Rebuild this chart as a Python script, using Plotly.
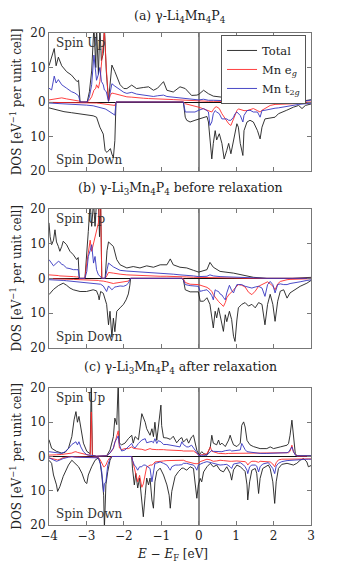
import plotly.graph_objects as go

# ---------------- (a) gamma-Li4Mn4P4 ----------------
e_up_a = [-4.00, -3.93, -3.86, -3.81, -3.75, -3.66, -3.53, -3.40, -3.31, -3.25, -3.21, -3.17, -2.98, -2.92,
          -2.86, -2.80, -2.75, -2.73, -2.68, -2.64, -2.60, -2.55, -2.52, -2.47, -2.41, -2.36, -2.32, -2.24,
          -2.10, -2.00, -1.92, -1.79, -1.66, -1.48, -1.34, -1.21, -1.10, -0.94, -0.85, -0.68, -0.50, -0.36,
          -0.19, -0.05, 0.00, 0.13, 0.26, 0.39, 0.66, 0.93, 0.97, 1.06, 1.29, 1.55, 1.82, 2.18, 2.62, 2.85, 3.03]
tot_up_a = [10.5, 13.0, 15.5, 10.5, 13.0, 10.5, 8.8, 7.8, 6.8, 5.9, 6.3, 0.0, 0.0, 3.0,
            9.0, 22.0, 10.0, 22.0, 8.0, 22.0, 12.0, 14.0, 22.0, 9.0, 0.3, 6.0, 10.7, 8.8,
            5.0, 3.9, 3.9, 4.9, 3.9, 4.2, 4.4, 3.4, 4.0, 5.9, 3.4, 2.9, 4.4, 3.9,
            1.9, 2.0, 2.2, 3.4, 2.4, 1.7, 1.3, 1.0, 1.5, 0.8, 0.5, 0.2, 0.0, 0.0, 0.1, 0.4, 0.7]
eg_up_a = [0.6, 0.7, 0.8, 0.8, 1.0, 1.2, 0.9, 0.7, 0.5, 0.4, 0.3, 0.0, 0.0, 0.5,
           1.5, 3.4, 4.0, 5.0, 4.0, 6.0, 11.0, 16.0, 20.5, 10.0, 0.2, 2.0, 2.6, 2.4,
           2.0, 1.7, 1.5, 1.4, 1.2, 1.1, 1.0, 0.9, 0.9, 0.9, 0.8, 0.7, 0.6, 0.5,
           0.4, 0.3, 0.3, 0.3, 0.2, 0.2, 0.1, 0.1, 0.1, 0.1, 0.0, 0.0, 0.0, 0.0, 0.0, 0.0, 0.0]
t2g_up_a = [4.0, 3.5, 7.5, 5.5, 6.5, 5.0, 4.0, 3.0, 2.6, 2.0, 1.8, 0.0, 0.0, 1.5,
            5.0, 13.6, 9.0, 6.3, 8.0, 10.0, 6.0, 5.0, 3.5, 3.0, 0.2, 3.0, 5.3, 4.6,
            3.6, 2.8, 2.5, 2.8, 2.3, 2.0, 1.8, 1.6, 1.8, 2.0, 1.6, 1.4, 1.2, 1.0,
            0.9, 0.7, 0.6, 0.8, 0.5, 0.5, 0.4, 0.2, 0.2, 0.2, 0.1, 0.0, 0.0, 0.0, 0.1, 0.3, 0.6]

e_dn_a = [-4.00, -3.80, -3.60, -3.40, -3.20, -3.00, -2.82, -2.73, -2.64, -2.55, -2.50, -2.45, -2.41, -2.36,
          -2.32, -2.28, -2.24, -2.21, -0.41, -0.36, -0.32, -0.23, -0.10, 0.00, 0.13, 0.22, 0.26, 0.30,
          0.35, 0.39, 0.44, 0.48, 0.55, 0.62, 0.68, 0.75, 0.80, 0.86, 0.93, 0.97, 1.02, 1.06, 1.11,
          1.18, 1.21, 1.29, 1.37, 1.46, 1.57, 1.64, 1.69, 1.77, 1.91, 2.04, 2.13, 2.22, 2.35, 2.53,
          2.67, 2.76, 2.85, 3.03]
tot_dn_a = [1.7, 2.3, 2.8, 3.1, 3.4, 3.6, 4.0, 4.4, 7.3, 9.3, 14.1, 14.6, 14.2, 13.5,
            15.1, 16.1, 11.2, 0.0, 0.0, 4.4, 5.3, 5.8, 5.3, 4.9, 4.6, 4.2, 5.8, 11.0,
            16.5, 12.0, 8.3, 11.0, 9.2, 12.0, 16.5, 14.0, 12.0, 15.0, 11.0, 8.3, 6.3, 7.3, 12.0,
            15.5, 8.3, 5.8, 5.3, 5.8, 8.3, 10.7, 7.3, 4.9, 4.6, 4.4, 3.4, 2.9, 2.4, 1.5,
            1.0, 1.9, 1.0, 0.5]
eg_dn_a = [0.1, 0.1, 0.1, 0.2, 0.2, 0.3, 0.3, 0.3, 0.4, 0.5, 0.5, 0.6, 0.7, 0.8,
           0.8, 0.9, 1.0, 0.0, 0.0, 0.5, 0.6, 0.8, 1.2, 1.5, 2.0, 2.4, 2.7, 2.9,
           2.9, 2.2, 1.5, 1.4, 1.9, 3.4, 4.4, 5.8, 6.3, 6.8, 4.9, 3.4, 2.5, 2.0, 2.2,
           2.5, 2.5, 2.5, 2.2, 1.9, 2.5, 2.9, 2.4, 1.9, 1.0, 0.7, 0.7, 0.6, 0.5, 0.5,
           0.4, 0.4, 0.3, 0.2]
t2g_dn_a = [0.3, 0.4, 0.5, 0.6, 0.7, 0.9, 1.1, 1.3, 1.5, 1.8, 2.0, 2.3, 2.6, 2.9,
            3.2, 3.5, 3.8, 0.0, 0.0, 2.9, 2.9, 2.9, 2.9, 2.4, 1.9, 2.5, 2.9, 6.8,
            5.8, 3.4, 2.5, 2.9, 3.4, 4.9, 4.9, 4.9, 5.3, 5.3, 4.4, 3.4, 2.9, 3.4, 3.9,
            5.8, 3.9, 2.5, 2.4, 2.9, 2.9, 4.4, 2.5, 2.4, 2.0, 1.8, 1.7, 1.5, 1.2, 0.8,
            0.7, 0.6, 0.5, 0.3]

# ---------------- (b) gamma-Li3Mn4P4 before relaxation ----------------
e_up_b = [-4.00, -3.97, -3.93, -3.88, -3.84, -3.80, -3.75, -3.71, -3.66, -3.62, -3.53, -3.44, -3.35, -3.26,
          -3.22, -3.19, -3.04, -2.99, -2.95, -2.90, -2.86, -2.81, -2.77, -2.73, -2.68, -2.65, -2.62, -2.59,
          -2.50, -2.45, -2.41, -2.28, -2.19, -2.10, -1.92, -1.75, -1.57, -1.39, -1.21, -1.03, -0.85, -0.76,
          -0.68, -0.50, -0.32, -0.14, 0.00, 0.22, 0.30, 0.39, 0.57, 0.93, 1.29, 1.46, 1.82, 2.50, 3.03]
tot_up_b = [16.0, 12.0, 9.7, 11.0, 14.0, 10.5, 9.2, 7.8, 9.2, 10.7, 9.7, 7.8, 6.8, 5.4,
            6.0, 0.0, 0.0, 6.8, 13.5, 22.0, 15.0, 22.0, 15.0, 22.0, 22.0, 12.0, 22.0, 0.0,
            0.0, 8.0, 10.5, 9.2, 5.4, 3.9, 3.0, 3.4, 3.0, 3.6, 3.2, 3.9, 3.9, 5.6,
            3.9, 3.2, 3.0, 2.3, 1.8, 2.5, 4.6, 3.2, 2.0, 1.5, 0.8, 0.3, 0.0, 0.0, 0.3]
eg_up_b = [1.0, 1.0, 0.9, 0.8, 0.8, 0.8, 0.8, 0.7, 0.7, 0.7, 0.6, 0.6, 0.5, 0.4,
           0.4, 0.0, 0.0, 4.4, 8.0, 11.0, 7.8, 10.0, 12.0, 14.0, 16.0, 22.0, 22.0, 0.0,
           0.0, 0.8, 1.7, 1.5, 1.3, 1.2, 1.0, 0.9, 0.8, 0.7, 0.6, 0.6, 0.6, 0.6,
           0.5, 0.5, 0.4, 0.3, 0.3, 0.2, 0.2, 0.2, 0.1, 0.1, 0.0, 0.0, 0.0, 0.0, 0.0]
t2g_up_b = [5.4, 5.0, 4.5, 3.6, 4.0, 4.5, 4.9, 4.7, 4.0, 3.9, 3.0, 2.8, 2.5, 2.5,
            2.5, 0.0, 0.0, 2.0, 6.3, 8.0, 9.7, 4.4, 6.3, 2.5, 1.0, 0.8, 0.5, 0.0,
            0.0, 2.5, 4.4, 3.3, 2.7, 2.3, 2.1, 2.0, 1.8, 1.6, 1.5, 1.4, 1.3, 1.3,
            1.2, 1.0, 0.9, 0.7, 0.5, 0.6, 1.0, 0.7, 0.5, 0.3, 0.2, 0.1, 0.0, 0.0, 0.0]

e_dn_b = [-4.00, -3.88, -3.75, -3.62, -3.53, -3.44, -3.35, -3.17, -3.00, -2.82, -2.73, -2.68, -2.66, -2.62,
          -2.55, -2.46, -2.41, -2.37, -2.32, -2.28, -2.24, -2.19, -2.10, -2.01, -1.94, -1.88, -1.84, -1.82,
          -0.45, -0.41, -0.36, -0.23, -0.01, 0.04, 0.13, 0.22, 0.30, 0.35, 0.39, 0.44, 0.48, 0.53,
          0.57, 0.62, 0.66, 0.71, 0.75, 0.82, 0.88, 0.93, 0.97, 1.02, 1.06, 1.15, 1.24, 1.33,
          1.42, 1.51, 1.60, 1.69, 1.77, 1.84, 1.91, 1.98, 2.04, 2.11, 2.18, 2.27, 2.36, 2.44,
          2.58, 2.71, 2.89, 3.03]
tot_dn_b = [4.7, 3.2, 2.1, 1.4, 2.0, 2.8, 3.3, 3.8, 3.8, 3.3, 3.6, 5.0, 6.2, 3.8,
            4.3, 7.5, 13.4, 9.5, 17.0, 11.5, 15.4, 9.5, 8.5, 7.5, 6.2, 4.5, 2.0, 0.0,
            0.0, 0.4, 3.3, 3.9, 3.9, 6.6, 6.6, 5.6, 7.5, 11.4, 14.3, 9.5, 11.4, 8.5,
            10.5, 12.5, 15.3, 10.5, 12.5, 9.5, 11.9, 16.7, 18.2, 12.0, 8.5, 7.5, 7.0, 8.0,
            7.5, 8.5, 7.0, 7.5, 13.4, 7.5, 4.6, 7.5, 12.4, 6.6, 3.7, 3.3, 5.7, 4.2,
            3.3, 2.3, 1.4, 0.4]
eg_dn_b = [0.1, 0.1, 0.1, 0.1, 0.2, 0.2, 0.3, 0.4, 0.4, 0.5, 0.6, 0.6, 0.7, 0.7,
           0.8, 1.0, 1.2, 1.3, 1.5, 1.5, 1.4, 1.3, 1.1, 1.0, 0.9, 0.8, 0.3, 0.0,
           0.0, 0.1, 1.2, 1.7, 1.8, 2.0, 2.3, 2.6, 3.2, 3.8, 4.7, 5.5, 6.2, 6.7,
           7.1, 7.6, 8.1, 7.0, 5.6, 4.5, 4.0, 3.3, 2.8, 2.3, 1.8, 2.0, 2.5, 4.0,
           4.7, 3.7, 2.3, 1.8, 1.3, 1.0, 1.6, 2.2, 3.3, 1.6, 0.9, 0.6, 0.4, 0.3,
           0.2, 0.2, 0.1, 0.1]
t2g_dn_b = [0.4, 0.4, 0.5, 0.6, 0.7, 0.8, 1.0, 1.2, 1.3, 1.4, 1.5, 1.6, 1.6, 1.7,
            2.2, 3.8, 2.2, 2.8, 3.3, 2.9, 2.5, 2.4, 2.2, 2.3, 2.0, 1.4, 0.5, 0.0,
            0.0, 0.4, 1.8, 2.1, 2.3, 3.75, 3.5, 3.3, 4.2, 5.0, 6.2, 3.3, 3.6, 3.8,
            4.5, 4.8, 5.5, 6.2, 4.2, 2.0, 3.5, 4.2, 3.0, 1.8, 1.8, 1.8, 2.3, 2.5,
            2.8, 2.5, 2.3, 2.8, 5.2, 1.8, 0.9, 1.8, 4.2, 1.8, 1.6, 1.8, 1.8, 1.5,
            1.3, 1.0, 0.6, 0.4]

# ---------------- (c) gamma-Li3Mn4P4 after relaxation ----------------
e_up_c = [-4.00, -3.93, -3.80, -3.66, -3.57, -3.48, -3.39, -3.33, -3.28, -3.24, -3.20, -3.15, -3.08, -2.99,
          -2.90, -2.87, -2.84, -2.73, -2.46, -2.37, -2.28, -2.24, -2.19, -2.15, -2.12, -2.06, -1.97, -1.88,
          -1.79, -1.75, -1.70, -1.61, -1.52, -1.43, -1.39, -1.30, -1.25, -1.21, -1.17, -1.12, -1.08, -1.01,
          -0.99, -0.94, -0.85, -0.76, -0.68, -0.59, -0.50, -0.45, -0.41, -0.32, -0.27, -0.19, -0.14, -0.10,
          -0.05, 0.01, 0.08, 0.13, 0.22, 0.31, 0.35, 0.39, 0.48, 0.53, 0.57, 0.62, 0.71, 0.80,
          0.84, 0.88, 0.93, 1.02, 1.11, 1.15, 1.20, 1.24, 1.29, 1.37, 1.46, 1.64, 1.82, 1.91,
          2.00, 2.18, 2.36, 2.40, 2.44, 2.49, 2.53, 2.58, 2.62, 3.03]
tot_up_c = [4.9, 2.4, 1.5, 1.0, 1.2, 2.4, 5.8, 10.7, 13.1, 10.0, 11.7, 8.8, 3.9, 1.5,
            0.8, 22.0, 0.4, 0.0, 0.2, 1.9, 5.8, 11.2, 9.3, 22.0, 3.9, 3.4, 3.9, 5.2,
            6.2, 3.9, 5.8, 4.9, 12.5, 10.0, 8.1, 6.2, 8.1, 5.8, 10.0, 4.7, 9.1, 15.0,
            9.0, 5.5, 5.4, 5.0, 5.9, 4.0, 5.2, 5.5, 4.2, 5.2, 3.9, 5.7, 6.2, 3.9,
            1.8, 0.4, 1.4, 0.9, 0.4, 2.8, 6.2, 3.9, 3.4, 4.8, 3.4, 3.9, 2.9, 4.8,
            6.2, 4.8, 3.4, 2.9, 3.9, 9.1, 10.1, 8.6, 4.7, 3.4, 2.9, 2.3, 2.3, 2.8,
            2.3, 2.8, 3.3, 3.8, 6.2, 10.6, 6.2, 0.9, 0.2, 0.2]
eg_up_c = [0.4, 0.5, 0.5, 0.6, 0.7, 0.8, 1.0, 1.3, 1.4, 1.2, 1.1, 0.9, 0.6, 0.4,
           0.3, 13.0, 0.2, 0.1, 0.2, 1.0, 2.3, 4.0, 6.0, 7.5, 2.5, 2.0, 2.3, 2.3,
           2.8, 2.4, 2.3, 2.3, 2.1, 1.8, 1.9, 2.3, 2.1, 2.0, 2.1, 2.0, 2.0, 2.1,
           2.1, 2.0, 1.9, 1.9, 1.8, 1.8, 1.7, 1.7, 1.6, 1.6, 1.7, 1.8, 1.6, 1.3,
           0.8, 0.4, 0.5, 0.6, 0.8, 2.8, 1.5, 1.4, 1.0, 0.9, 0.9, 0.8, 0.8, 0.9,
           0.9, 0.9, 0.9, 0.9, 0.9, 0.9, 0.9, 0.9, 0.9, 0.9, 0.9, 0.9, 0.9, 0.9,
           0.9, 1.0, 1.0, 1.1, 1.5, 3.3, 1.3, 0.4, 0.1, 0.1]
t2g_up_c = [1.4, 1.3, 0.9, 0.9, 1.4, 2.3, 3.5, 4.0, 4.3, 3.4, 4.3, 2.8, 1.4, 0.5,
            0.3, 0.3, 0.2, 0.1, 0.2, 1.0, 2.5, 4.2, 5.2, 6.0, 3.5, 1.6, 1.9, 2.8,
            3.8, 2.8, 2.5, 3.8, 4.8, 5.2, 4.0, 4.3, 4.4, 4.0, 5.2, 3.8, 4.6, 4.3,
            4.0, 3.5, 3.5, 3.3, 3.2, 3.0, 2.8, 4.3, 3.5, 2.8, 2.8, 3.3, 2.5, 1.8,
            0.8, 0.2, 0.4, 0.3, 0.4, 1.5, 1.8, 1.5, 1.4, 1.4, 1.3, 1.4, 1.7, 1.8,
            1.9, 1.6, 1.7, 1.8, 1.9, 3.8, 2.5, 2.0, 1.4, 1.3, 1.2, 0.9, 0.9, 0.9,
            0.9, 0.9, 1.1, 1.3, 1.9, 2.8, 1.5, 0.4, 0.2, 0.2]

e_dn_c = [-4.00, -3.93, -3.88, -3.80, -3.77, -3.71, -3.62, -3.48, -3.39, -3.30, -3.21, -3.12, -3.04, -2.99,
          -2.95, -2.86, -2.77, -2.68, -2.63, -2.59, -2.54, -2.52, -2.48, -2.43, -2.37, -2.32, -1.79, -1.77,
          -1.72, -1.68, -1.63, -1.58, -1.52, -1.48, -1.43, -1.39, -1.34, -1.30, -1.25, -1.21, -1.17, -1.12,
          -1.03, -0.94, -0.85, -0.79, -0.76, -0.72, -0.63, -0.54, -0.45, -0.41, -0.32, -0.23, -0.14, -0.10,
          -0.05, -0.01, 0.04, 0.08, 0.13, 0.22, 0.31, 0.39, 0.48, 0.57, 0.66, 0.75, 0.84, 0.88,
          0.93, 1.02, 1.11, 1.20, 1.24, 1.29, 1.31, 1.36, 1.42, 1.51, 1.55, 1.60, 1.64, 1.71,
          1.78, 1.86, 1.91, 1.98, 2.03, 2.07, 2.13, 2.22, 2.36, 2.53, 2.62, 2.71, 2.80, 2.89,
          2.93, 3.03]
tot_dn_c = [1.1, 2.0, 5.4, 8.3, 10.2, 8.8, 5.8, 2.5, 1.1, 2.0, 3.0, 4.9, 7.4, 7.9,
            5.4, 3.0, 1.1, 0.4, 2.0, 5.4, 11.3, 21.0, 8.3, 4.4, 1.1, 0.0, 0.0, 3.4,
            8.3, 4.9, 9.2, 6.3, 13.2, 17.6, 11.3, 6.3, 8.3, 6.3, 12.7, 15.1, 7.4, 4.4,
            3.4, 5.4, 8.3, 11.3, 15.1, 10.2, 5.8, 4.4, 3.4, 3.4, 4.0, 3.0, 3.5, 7.4,
            12.2, 8.3, 6.4, 7.4, 4.5, 3.0, 2.0, 3.0, 2.5, 4.0, 4.5, 3.0, 4.9, 6.9,
            3.9, 2.5, 3.0, 3.9, 4.4, 8.3, 12.7, 7.4, 4.0, 3.5, 4.9, 10.8, 6.4, 3.5,
            3.0, 2.5, 3.5, 7.4, 13.7, 7.4, 3.5, 2.3, 2.0, 2.5, 2.0, 1.1, 0.6, 1.6,
            3.0, 2.5]
eg_dn_c = [0.4, 0.6, 0.8, 1.0, 1.0, 0.8, 0.3, 0.1, 0.0, 0.1, 0.1, 0.2, 0.2, 0.2,
           0.2, 0.2, 0.2, 0.3, 1.0, 2.0, 3.0, 3.0, 2.5, 1.2, 0.3, 0.0, 0.0, 1.1,
           3.5, 5.0, 7.4, 5.5, 9.0, 8.0, 4.5, 3.0, 2.8, 2.5, 2.5, 2.2, 1.6, 1.5,
           1.4, 1.3, 1.2, 1.2, 1.2, 1.1, 1.1, 1.1, 1.0, 1.1, 1.5, 1.8, 2.0, 2.1,
           2.1, 2.1, 1.5, 1.3, 1.1, 0.8, 1.0, 1.4, 1.3, 1.1, 1.2, 1.4, 1.4, 1.4,
           1.3, 1.3, 1.4, 1.5, 1.5, 2.0, 2.5, 1.8, 1.4, 1.4, 1.5, 1.7, 1.4, 1.4,
           1.5, 1.5, 1.6, 2.2, 3.0, 1.8, 1.0, 0.8, 0.8, 0.8, 0.8, 0.8, 0.8, 0.8,
           0.8, 0.7]
t2g_dn_c = [0.4, 0.8, 1.1, 1.4, 1.3, 1.0, 0.6, 0.2, 0.0, 0.2, 0.2, 0.3, 0.3, 0.3,
            0.3, 0.4, 0.4, 0.4, 2.0, 4.5, 10.3, 8.0, 7.4, 2.5, 0.6, 0.0, 0.0, 1.1,
            2.5, 3.0, 4.0, 3.0, 3.0, 2.5, 2.5, 2.8, 3.0, 3.5, 7.4, 5.0, 2.0, 1.9,
            1.6, 2.0, 2.5, 3.5, 4.0, 3.0, 2.5, 2.5, 2.4, 2.0, 2.0, 2.3, 2.5, 3.0,
            4.0, 2.5, 2.2, 2.0, 1.8, 1.5, 1.8, 2.0, 2.2, 2.5, 2.4, 2.3, 3.0, 3.5,
            2.2, 2.0, 1.8, 2.5, 3.0, 4.0, 5.0, 3.0, 2.5, 2.5, 2.8, 4.5, 3.0, 2.2,
            2.0, 1.8, 2.5, 3.5, 5.0, 2.8, 2.0, 1.5, 1.2, 1.0, 0.9, 0.8, 0.8, 0.8,
            0.8, 0.8]

panel_titles = ["(a) γ-Li<sub>4</sub>Mn<sub>4</sub>P<sub>4</sub>",
                "(b) γ-Li<sub>3</sub>Mn<sub>4</sub>P<sub>4</sub> before relaxation",
                "(c) γ-Li<sub>3</sub>Mn<sub>4</sub>P<sub>4</sub> after relaxation"]
series_names = ["Total", "Mn e<sub><i>g</i></sub>", "Mn t<sub>2<i>g</i></sub>"]
series_colors = ["#1e1e1e", "#ff2b2b", "#3535c0"]
dos_ticks = [-20, -10, 0, 10, 20]
dos_ticktext = ["20", "10", "0", "10", "20"]
energy_ticks = [-4, -3, -2, -1, 0, 1, 2, 3]

panels = [
    (e_up_a, [tot_up_a, eg_up_a, t2g_up_a], e_dn_a, [tot_dn_a, eg_dn_a, t2g_dn_a]),
    (e_up_b, [tot_up_b, eg_up_b, t2g_up_b], e_dn_b, [tot_dn_b, eg_dn_b, t2g_dn_b]),
    (e_up_c, [tot_up_c, eg_up_c, t2g_up_c], e_dn_c, [tot_dn_c, eg_dn_c, t2g_dn_c]),
]

FONT = "DejaVu Serif, serif"
domains = [(0.7195, 1.0), (0.3604, 0.6423), (0.0, 0.2785)]
title_y = [1.034, 0.683, 0.3205]

fig = go.Figure()
for i, (e_up, up_vals, e_dn, dn_vals) in enumerate(panels):
    n = "" if i == 0 else str(i + 1)
    for k in range(3):
        fig.add_trace(go.Scatter(
            x=e_up, y=up_vals[k], xaxis="x" + n, yaxis="y" + n, mode="lines",
            line=dict(color=series_colors[k], width=0.9),
            name=series_names[k], legendgroup=series_names[k], showlegend=(i == 0)
        ))
        fig.add_trace(go.Scatter(
            x=e_dn, y=[-v for v in dn_vals[k]], xaxis="x" + n, yaxis="y" + n, mode="lines",
            line=dict(color=series_colors[k], width=0.9),
            name=series_names[k], legendgroup=series_names[k], showlegend=False
        ))

axis_common = dict(showgrid=False, ticks="inside", ticklen=4, tickcolor="#777",
                   showline=True, linecolor="#777", linewidth=1, mirror="allticks",
                   tickfont=dict(family=FONT, size=12, color="#222"))
layout = {}
for i in range(3):
    n = "" if i == 0 else str(i + 1)
    layout["xaxis" + n] = dict(axis_common, range=[-4, 3], tickvals=energy_ticks, domain=[0, 1],
                               showticklabels=(i == 2), anchor="y" + n,
                               zeroline=True, zerolinecolor="#8c8c8c", zerolinewidth=1.6)
    layout["yaxis" + n] = dict(axis_common, range=[-20, 20], tickvals=dos_ticks,
                               ticktext=dos_ticktext, domain=list(domains[i]), anchor="x" + n,
                               zeroline=True, zerolinecolor="#111", zerolinewidth=1.3)

annotations = []
for i in range(3):
    n = "" if i == 0 else str(i + 1)
    annotations.append(dict(text=panel_titles[i], xref="paper", yref="paper", x=0.5, y=title_y[i],
                            xanchor="center", yanchor="middle", showarrow=False,
                            font=dict(family=FONT, size=12.5, color="#222")))
    annotations.append(dict(text="DOS [eV<sup>−1</sup> per unit cell]", xref="paper", yref="paper",
                            x=-0.125, y=sum(domains[i]) / 2, xanchor="center", yanchor="middle",
                            textangle=-90, showarrow=False,
                            font=dict(family=FONT, size=12, color="#222")))
    annotations.append(dict(text="Spin Up", xref="x" + n + " domain", yref="y" + n + " domain",
                            x=0.02, y=0.925, xanchor="left", yanchor="middle", showarrow=False,
                            font=dict(family=FONT, size=12, color="#333")))
    annotations.append(dict(text="Spin Down", xref="x" + n + " domain", yref="y" + n + " domain",
                            x=0.02, y=0.08, xanchor="left", yanchor="middle", showarrow=False,
                            font=dict(family=FONT, size=12, color="#333")))
annotations.append(dict(text="<i>E</i> − <i>E</i><sub>F</sub> [eV]", xref="paper", yref="paper",
                        x=0.47, y=-0.061, xanchor="center", yanchor="middle", showarrow=False,
                        font=dict(family=FONT, size=12, color="#222")))

# the page body adds an 8px margin, so the figure is 8px smaller and shifted accordingly
fig.update_layout(
    width=328, height=554,
    margin=dict(l=41, r=25, t=25, b=37),
    paper_bgcolor="white", plot_bgcolor="white",
    font=dict(family=FONT, size=12, color="#222"),
    annotations=annotations,
    legend=dict(x=0.981, y=0.996, xanchor="right", yanchor="top",
                bgcolor="white", bordercolor="#555", borderwidth=1,
                font=dict(family=FONT, size=11.5, color="#222"),
                tracegroupgap=0, itemwidth=30),
    **layout
)

fig.write_html("out.html")
